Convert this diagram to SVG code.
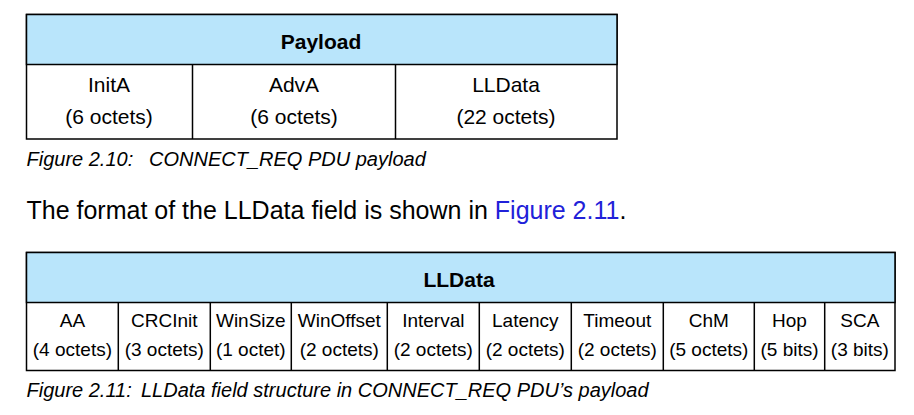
<svg xmlns="http://www.w3.org/2000/svg" width="914" height="415" viewBox="0 0 914 415">
  <style>
    .frame { fill: #ffffff; stroke: #000000; stroke-width: 1.5; }
    .head { fill: #b9e5fb; stroke: #000000; stroke-width: 1.5; }
    .rule { stroke: #000000; stroke-width: 1.5; fill: none; }
    text { font-family: "Liberation Sans", Arial, sans-serif; fill: #000000; }
    .hd { font-weight: bold; font-size: 21px; text-anchor: middle; }
    .c1 { font-size: 21px; text-anchor: middle; }
    .c2 { font-size: 19px; text-anchor: middle; }
    .cap { font-size: 20px; font-style: italic; }
    .body { font-size: 25px; }
    .link { fill: #2121d9; }
  </style>

  <rect width="914" height="415" fill="#ffffff"/>

  <!-- CONNECT_REQ payload table -->
  <g id="payload-table">
    <rect class="frame" x="26.5" y="14.5" width="590.5" height="124.5"/>
    <rect class="head" x="26.5" y="14.5" width="590.5" height="50"/>
    <text class="hd" x="321" y="48.5">Payload</text>
  </g>
  <g id="payload-initA">
    <text class="c1" x="109" y="91.5">InitA</text>
    <text class="c1" x="109" y="124">(6 octets)</text>
  </g>
  <g id="payload-advA">
    <text class="c1" x="294" y="91.5">AdvA</text>
    <text class="c1" x="294" y="124">(6 octets)</text>
  </g>
  <g id="payload-lldata">
    <text class="c1" x="506" y="91.5">LLData</text>
    <text class="c1" x="506" y="124">(22 octets)</text>
  </g>

  <text class="cap" x="26.5" y="165.5">Figure 2.10:</text>
  <text class="cap" x="149" y="165.5">CONNECT_REQ PDU payload</text>

  <text class="body" x="26.5" y="219">The format of the LLData field is shown in <tspan class="link">Figure 2.11</tspan>.</text>

  <!-- LLData field table -->
  <g id="lldata-table">
    <rect class="frame" x="26.5" y="252.5" width="868.5" height="118"/>
    <rect class="head" x="26.5" y="252.5" width="868.5" height="50"/>
    <text class="hd" x="459" y="287">LLData</text>
  </g>
  <g id="f-aa"><text class="c2" x="72.4" y="327">AA</text><text class="c2" x="72.4" y="355.5">(4 octets)</text></g>
  <g id="f-crcinit"><text class="c2" x="164.3" y="327">CRCInit</text><text class="c2" x="164.3" y="355.5">(3 octets)</text></g>
  <g id="f-winsize"><text class="c2" x="250.8" y="327">WinSize</text><text class="c2" x="250.8" y="355.5">(1 octet)</text></g>
  <g id="f-winoffset"><text class="c2" x="339.3" y="327">WinOffset</text><text class="c2" x="339.3" y="355.5">(2 octets)</text></g>
  <g id="f-interval"><text class="c2" x="433.3" y="327">Interval</text><text class="c2" x="433.3" y="355.5">(2 octets)</text></g>
  <g id="f-latency"><text class="c2" x="525.3" y="327">Latency</text><text class="c2" x="525.3" y="355.5">(2 octets)</text></g>
  <g id="f-timeout"><text class="c2" x="617.3" y="327">Timeout</text><text class="c2" x="617.3" y="355.5">(2 octets)</text></g>
  <g id="f-chm"><text class="c2" x="708.8" y="327">ChM</text><text class="c2" x="708.8" y="355.5">(5 octets)</text></g>
  <g id="f-hop"><text class="c2" x="789.5" y="327">Hop</text><text class="c2" x="789.5" y="355.5">(5 bits)</text></g>
  <g id="f-sca"><text class="c2" x="859.9" y="327">SCA</text><text class="c2" x="859.9" y="355.5">(3 bits)</text></g>

  <!-- cell dividers -->
  <g id="dividers">
    <path class="rule" d="M192.5 64.5V139 M395.5 64.5V139"/>
    <path class="rule" d="M118.3 302.5V370.5 M210.3 302.5V370.5 M291.3 302.5V370.5 M387.3 302.5V370.5 M479.3 302.5V370.5 M571.3 302.5V370.5 M663.3 302.5V370.5 M754.3 302.5V370.5 M824.7 302.5V370.5"/>
  </g>

  <text class="cap" x="26.5" y="396.5">Figure 2.11:</text>
  <text class="cap" x="141" y="396.5">LLData field structure in CONNECT_REQ PDU’s payload</text>
</svg>
